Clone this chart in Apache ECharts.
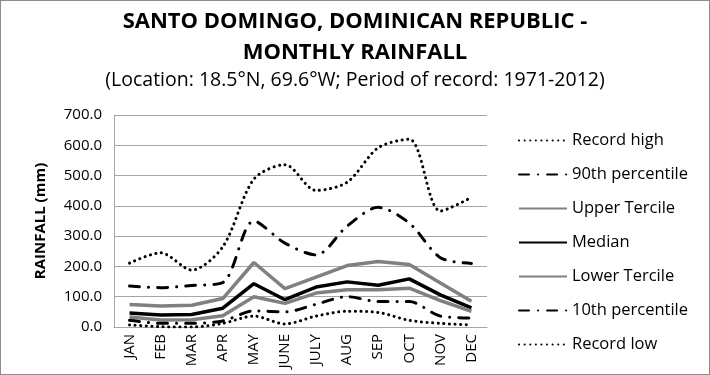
<!DOCTYPE html>
<html><head><meta charset="utf-8">
<script src="https://cdn.jsdelivr.net/npm/echarts@6/dist/echarts.min.js"></script>
<style>
html,body{margin:0;padding:0;background:#fff;}
#c{width:710px;height:375px;box-sizing:border-box;border:1px solid #8c8c8c;}
</style></head>
<body><div id="c"></div>
<script>
const months = ['JAN','FEB','MAR','APR','MAY','JUNE','JULY','AUG','SEP','OCT','NOV','DEC'];
const recordHigh = [211, 245, 188, 265, 488, 536, 451, 478, 592, 620, 383, 428];
const p90 = [135, 130, 137, 147, 350, 277, 238, 333, 395, 343, 229, 210];
const upperTercile = [74, 69, 72, 94, 213, 127, 165, 203, 216, 206, 145, 85];
const median = [46, 40, 41, 62, 143, 90, 132, 149, 138, 159, 106, 63];
const lowerTercile = [33, 23, 24, 37, 100, 78, 112, 123, 123, 128, 87, 52];
const p10 = [22, 12, 12, 20, 53, 50, 75, 100, 84, 84, 36, 30];
const recordLow = [7, 1, 0, 12, 36, 10, 36, 52, 48, 22, 12, 7];
const yTicks = [0, 100, 200, 300, 400, 500, 600, 700];

const FONT = '"Open Sans", "Noto Sans", sans-serif';
const dotted = {color:'#000', width:3, type:[0.1,5.5], cap:'round'};
const dashDot = {color:'#000', width:3, type:[10,9,0.1,9], cap:'round'};
function s(name, data, ls, smooth){
  return {name, type:'line', data, symbol:'none', smooth: smooth ? 0.3 : false,
    lineStyle: ls, itemStyle:{color: ls.color}, emphasis:{disabled:true}};
}
const chart = echarts.init(document.getElementById('c'), null, {renderer:'canvas'});
chart.setOption({
  animation:false,
  title:[
    {text:'SANTO DOMINGO, DOMINICAN REPUBLIC -\nMONTHLY RAINFALL', left:'center', top:0,
     textStyle:{fontFamily:FONT, fontSize:22, fontWeight:'bold', color:'#000', lineHeight:31}},
    {text:'(Location: 18.5°N, 69.6°W; Period of record: 1971-2012)', left:'center', top:64,
     textStyle:{fontFamily:FONT, fontSize:19.5, fontWeight:'normal', color:'#000'}}
  ],
  grid:{left:113, right:222, top:114, bottom:47, containLabel:false},
  legend:{orient:'vertical', left:512, top:126, itemWidth:48, itemHeight:12, itemGap:17,
    itemStyle:{opacity:0},
    textStyle:{fontFamily:FONT, fontSize:16.5, color:'#000'},
    data:['Record high','90th percentile','Upper Tercile','Median','Lower Tercile','10th percentile','Record low']},
  xAxis:{type:'category', data:months, boundaryGap:true,
    axisLine:{lineStyle:{color:'#a6a6a6', width:1}}, axisTick:{show:false},
    axisLabel:{rotate:90, fontFamily:FONT, fontSize:15, color:'#000', margin:7, interval:0}},
  yAxis:{type:'value', min:0, max:700, interval:100,
    name:'RAINFALL (mm)', nameLocation:'middle', nameGap:66, nameRotate:90,
    nameTextStyle:{fontFamily:FONT, fontSize:15, fontWeight:'bold', color:'#000'},
    axisLine:{show:true, lineStyle:{color:'#a6a6a6'}}, axisTick:{show:false},
    axisLabel:{fontFamily:FONT, fontSize:15, color:'#000', margin:12, formatter:v=>v.toFixed(1)},
    splitLine:{lineStyle:{color:'#a6a6a6', width:1}}},
  series:[
    s('Record high', recordHigh, dotted, true),
    s('90th percentile', p90, dashDot, true),
    s('Upper Tercile', upperTercile, {color:'#808080', width:3.5}, false),
    s('Median', median, {color:'#000', width:3.5}, false),
    s('Lower Tercile', lowerTercile, {color:'#808080', width:3.5}, false),
    s('10th percentile', p10, dashDot, true),
    s('Record low', recordLow, dotted, true)
  ]
});
</script></body></html>
